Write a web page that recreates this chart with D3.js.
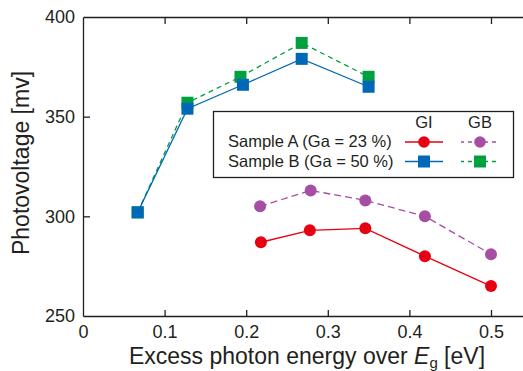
<!DOCTYPE html>
<html>
<head>
<meta charset="utf-8">
<script src="https://cdn.jsdelivr.net/npm/d3@7"></script>
<style>
  body { margin: 0; background: #fff; }
  svg { display: block; font-family: "Liberation Sans", Arial, sans-serif; }
</style>
</head>
<body>
<div id="chart"></div>
<script>

// Set dimensions and margins for plot
const width = 523;
const height = 371;
const margin = {left: 83, top: 17, bottom: 55};

// Data
// Sample A (Ga = 23 %)
const xAGI = [0.218, 0.278, 0.346, 0.419, 0.500];
const aGI  = [287, 293, 294, 280, 265];
const xAGB = [0.217, 0.279, 0.346, 0.419, 0.500];
const aGB  = [305, 313, 308, 300, 281];
// Sample B (Ga = 50 %)
const xBGI = [0.067, 0.128, 0.196, 0.268, 0.350];
const bGI  = [302, 354, 366, 379, 365];
const xBGB = [0.067, 0.128, 0.193, 0.268, 0.350];
const bGB  = [302, 357, 370, 387, 370];

const xTicks = [0, 0.1, 0.2, 0.3, 0.4, 0.5];
const yTicks = [250, 300, 350, 400];

const colors = {aGI: "#e60012", aGB: "#a64ea4", bGI: "#0068b7", bGB: "#00a040"};
const axisColor = "#231f20";

const svg = d3.select("#chart")
  .append("svg")
  .attr("width", width)
  .attr("height", height);

// scales: x runs past the right edge of the picture
const xScale = d3.scaleLinear()
  .domain([0, 0.6])
  .range([margin.left, margin.left + 6 * 81.6]);

const yScale = d3.scaleLinear()
  .domain([250, 400])
  .range([height - margin.bottom, margin.top]);

const y0 = yScale(250);

// bottom axis, ticks point inward
const xAxis = svg.append("g")
  .attr("transform", `translate(0,${y0})`)
  .call(d3.axisBottom(xScale).tickValues(xTicks).tickSize(-6).tickSizeOuter(0)
        .tickPadding(9).tickFormat(d => d === 0 ? "0" : d3.format(".1f")(d)));

// top axis, ticks only
const topAxis = svg.append("g")
  .attr("transform", `translate(0,${margin.top})`)
  .call(d3.axisTop(xScale).tickValues(xTicks.slice(1)).tickSize(-7).tickSizeOuter(0)
        .tickFormat(""));

// left axis
const yAxis = svg.append("g")
  .attr("transform", `translate(${margin.left},0)`)
  .call(d3.axisLeft(yScale).tickValues(yTicks).tickSize(-7).tickSizeOuter(0).tickPadding(8));

[xAxis, topAxis, yAxis].forEach(g => {
  g.selectAll(".domain").attr("stroke", axisColor).attr("stroke-width", 1.3);
  g.selectAll(".tick line").attr("stroke", axisColor).attr("stroke-width", 1.3);
  g.selectAll(".tick text").attr("fill", axisColor).attr("font-size", "18px")
    .attr("font-family", "Liberation Sans, Arial, sans-serif");
});
// hide the tick marks that sit on the corner
yAxis.selectAll(".tick line").filter(d => d === 250 || d === 400).remove();
xAxis.selectAll(".tick line").filter(d => d === 0).remove();

// axis titles
svg.append("text")
  .attr("x", 307)
  .attr("y", 364)
  .attr("text-anchor", "middle")
  .attr("font-size", "23px")
  .attr("fill", axisColor)
  .call(t => {
    t.append("tspan").text("Excess photon energy over ");
    t.append("tspan").attr("font-style", "italic").text("E");
    t.append("tspan").attr("font-size", "15px").attr("dy", 4).text("g");
    t.append("tspan").attr("dy", -4).text(" [eV]");
  });

svg.append("text")
  .attr("transform", "translate(29,163) rotate(-90)")
  .attr("text-anchor", "middle")
  .attr("font-size", "23px")
  .attr("fill", axisColor)
  .text("Photovoltage [mv]");

/*

  Series

*/

const series = [
  {xs: xBGB, ys: bGB, color: colors.bGB, dash: "5,4", shape: "square"},
  {xs: xBGI, ys: bGI, color: colors.bGI, dash: null, shape: "square"},
  {xs: xAGB, ys: aGB, color: colors.aGB, dash: "7,4", shape: "circle"},
  {xs: xAGI, ys: aGI, color: colors.aGI, dash: null, shape: "circle"}
];

const line = d3.line().x(d => xScale(d[0])).y(d => yScale(d[1]));
const sq = 12;

series.forEach(s => {
  const pts = s.xs.map((x, i) => [x, s.ys[i]]);
  svg.append("path")
    .datum(pts)
    .attr("d", line)
    .attr("fill", "none")
    .attr("stroke", s.color)
    .attr("stroke-width", 1.3)
    .attr("stroke-dasharray", s.dash);

  if (s.shape === "square") {
    svg.selectAll(null)
      .data(pts)
      .enter()
      .append("rect")
        .attr("x", d => xScale(d[0]) - sq / 2)
        .attr("y", d => yScale(d[1]) - sq / 2)
        .attr("width", sq)
        .attr("height", sq)
        .attr("fill", s.color);
  } else {
    svg.selectAll(null)
      .data(pts)
      .enter()
      .append("circle")
        .attr("cx", d => xScale(d[0]))
        .attr("cy", d => yScale(d[1]))
        .attr("r", 6)
        .attr("fill", s.color);
  }
});

/*

  Legend

*/

const legend = svg.append("g");
legend.append("rect")
  .attr("x", 213.5).attr("y", 111.5)
  .attr("width", 300).attr("height", 66)
  .attr("fill", "#fff")
  .attr("stroke", axisColor)
  .attr("stroke-width", 1.3);

const colX = {GI: 424, GB: 480};
const rowY = [142, 161.5];

["GI", "GB"].forEach(k => {
  legend.append("text")
    .attr("x", colX[k]).attr("y", 128)
    .attr("text-anchor", "middle")
    .attr("font-size", "16.5px")
    .attr("fill", axisColor)
    .text(k);
});

const legendRows = [
  {label: "Sample A (Ga = 23 %)", GI: colors.aGI, GB: colors.aGB, shape: "circle"},
  {label: "Sample B (Ga = 50 %)", GI: colors.bGI, GB: colors.bGB, shape: "square"}
];

legendRows.forEach((r, i) => {
  const y = rowY[i];
  legend.append("text")
    .attr("x", 228).attr("y", y + 5)
    .attr("font-size", "16.5px")
    .attr("fill", axisColor)
    .text(r.label);

  ["GI", "GB"].forEach(k => {
    const cx = colX[k];
    legend.append("line")
      .attr("x1", cx - 19).attr("x2", cx + 19)
      .attr("y1", y).attr("y2", y)
      .attr("stroke", r[k])
      .attr("stroke-width", 1.3)
      .attr("stroke-dasharray", k === "GB" ? "4,4" : null)
      .attr("stroke-dashoffset", k === "GB" ? 1 : null);
    if (r.shape === "circle") {
      legend.append("circle").attr("cx", cx).attr("cy", y).attr("r", 5.8).attr("fill", r[k]);
    } else {
      legend.append("rect").attr("x", cx - 6).attr("y", y - 6)
        .attr("width", 12).attr("height", 12).attr("fill", r[k]);
    }
  });
});

</script>
</body>
</html>
